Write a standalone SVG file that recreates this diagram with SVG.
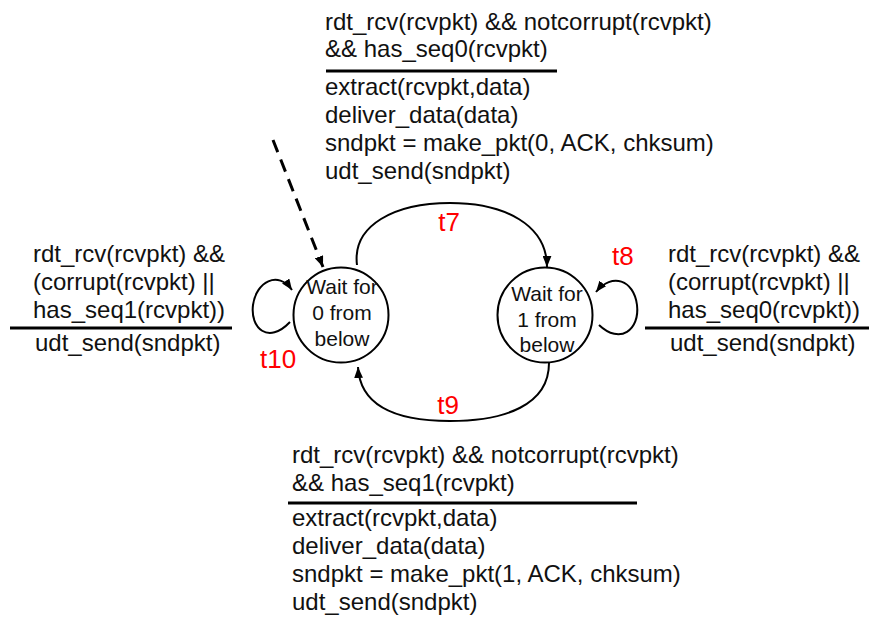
<svg xmlns="http://www.w3.org/2000/svg" width="869" height="619" viewBox="0 0 869 619">
<defs>
<style>
text{font-family:"Liberation Sans",Arial,Helvetica,sans-serif;fill:#111;}
.act{font-size:24px;}
.st{font-size:21px;text-anchor:middle;}
.lbl{font-size:26px;fill:#ff0000;}
.rule{stroke:#000;stroke-width:3;}
.state{fill:#fff;stroke:#000;stroke-width:2;}
.edge{fill:none;stroke:#000;stroke-width:2;marker-end:url(#arr);}
.init{fill:none;stroke:#000;stroke-width:3;stroke-dasharray:13 8;marker-end:url(#arr);}
</style>
<marker id="arr" viewBox="0 0 10 8" refX="10" refY="4" markerWidth="11" markerHeight="9" markerUnits="userSpaceOnUse" orient="auto">
<path d="M0,0 L10,4 L0,8 z" fill="#000"/>
</marker>
</defs>
<rect width="869" height="619" fill="#fff"/>

<g id="connectors">
<path id="init" class="init" d="M273,140 L323,267"/>
<path id="t7-edge" class="edge" d="M357,265 C352,225 395,203 450,203 C505,203 547,225 547,267"/>
<path id="t9-edge" class="edge" d="M549,363 C549,405 505,421 450,421 C395,421 360,405 358,367"/>
<path id="t10-edge" class="edge" d="M290,322 C268,345 250,328 253,305 C256,282 278,270 292,290"/>
<path id="t8-edge" class="edge" d="M599,325 C620,345 640,330 637,305 C634,280 612,272 596,292"/>
</g>

<g id="state0">
<circle class="state" cx="341" cy="315" r="47.5"/>
<text class="st" x="342" y="294">Wait for</text>
<text class="st" x="342" y="320">0 from</text>
<text class="st" x="342" y="346">below</text>
</g>

<g id="state1">
<circle class="state" cx="545" cy="315" r="47.5"/>
<text class="st" x="547" y="301">Wait for</text>
<text class="st" x="547" y="327">1 from</text>
<text class="st" x="547" y="352">below</text>
</g>

<g id="labels">
<text class="lbl" x="449" y="231" text-anchor="middle">t7</text>
<text class="lbl" x="612" y="265">t8</text>
<text class="lbl" x="448" y="414" text-anchor="middle">t9</text>
<text class="lbl" x="260" y="368">t10</text>
</g>

<g id="action-t7">
<text class="act" x="325" y="30">rdt_rcv(rcvpkt) &amp;&amp; notcorrupt(rcvpkt)</text>
<text class="act" x="325" y="57">&amp;&amp; has_seq0(rcvpkt)</text>
<line class="rule" x1="326" y1="71" x2="557" y2="71"/>
<text class="act" x="325" y="95">extract(rcvpkt,data)</text>
<text class="act" x="325" y="123">deliver_data(data)</text>
<text class="act" x="325" y="151">sndpkt = make_pkt(0, ACK, chksum)</text>
<text class="act" x="325" y="179">udt_send(sndpkt)</text>
</g>

<g id="action-t9">
<text class="act" x="292" y="463">rdt_rcv(rcvpkt) &amp;&amp; notcorrupt(rcvpkt)</text>
<text class="act" x="292" y="491">&amp;&amp; has_seq1(rcvpkt)</text>
<line class="rule" x1="288" y1="503" x2="637" y2="503"/>
<text class="act" x="292" y="526">extract(rcvpkt,data)</text>
<text class="act" x="292" y="554">deliver_data(data)</text>
<text class="act" x="292" y="582">sndpkt = make_pkt(1, ACK, chksum)</text>
<text class="act" x="292" y="610">udt_send(sndpkt)</text>
</g>

<g id="action-t10">
<text class="act" x="33" y="262">rdt_rcv(rcvpkt) &amp;&amp;</text>
<text class="act" x="33" y="290">(corrupt(rcvpkt) ||</text>
<text class="act" x="33" y="318">has_seq1(rcvpkt))</text>
<line class="rule" x1="10" y1="328" x2="232" y2="328"/>
<text class="act" x="35" y="351">udt_send(sndpkt)</text>
</g>

<g id="action-t8">
<text class="act" x="668" y="262">rdt_rcv(rcvpkt) &amp;&amp;</text>
<text class="act" x="668" y="290">(corrupt(rcvpkt) ||</text>
<text class="act" x="668" y="318">has_seq0(rcvpkt))</text>
<line class="rule" x1="645" y1="328" x2="869" y2="328"/>
<text class="act" x="670" y="351">udt_send(sndpkt)</text>
</g>
</svg>
